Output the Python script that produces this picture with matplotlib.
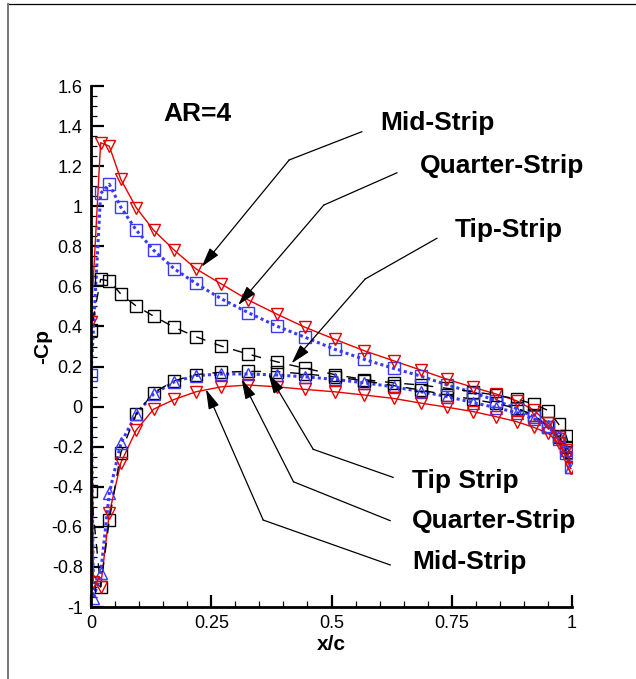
import numpy as np
import matplotlib
matplotlib.use('Agg')
import matplotlib.pyplot as plt
from matplotlib.ticker import MultipleLocator, FuncFormatter
from matplotlib.lines import Line2D

plt.rcParams['font.family'] = ['Liberation Sans', 'DejaVu Sans']
plt.rcParams['axes.unicode_minus'] = False

# chordwise stations (upper / lower surface)
x_upper = [0.0, 0.02, 0.038, 0.062, 0.094, 0.13, 0.173, 0.218, 0.271, 0.327, 0.386, 0.445, 0.507,
           0.568, 0.629, 0.685, 0.741, 0.795, 0.842, 0.885, 0.92, 0.951, 0.972, 0.988, 0.997]
x_lower = [0.005, 0.02, 0.038, 0.062, 0.094, 0.13, 0.173, 0.218, 0.271, 0.327, 0.386, 0.445, 0.507,
           0.568, 0.629, 0.685, 0.741, 0.795, 0.842, 0.885, 0.92, 0.951, 0.972, 0.988, 0.997]
x_lower_tip = [0.0, 0.02, 0.038, 0.062, 0.094, 0.13, 0.173, 0.218, 0.271, 0.327, 0.386, 0.445, 0.507,
               0.568, 0.629, 0.685, 0.741, 0.795, 0.842, 0.885, 0.92, 0.951, 0.972, 0.988, 0.997]

# -Cp, mid strip
mid_upper = [0.42, 1.317, 1.30, 1.134, 0.993, 0.881, 0.781, 0.688, 0.612, 0.532, 0.462, 0.396, 0.336,
             0.279, 0.229, 0.183, 0.136, 0.096, 0.063, 0.029, -0.017, -0.083, -0.15, -0.217, -0.308]
mid_lower = [-0.874, -0.899, -0.532, -0.28, -0.117, -0.013, 0.036, 0.074, 0.099, 0.108, 0.099, 0.086, 0.074,
             0.058, 0.041, 0.018, -0.003, -0.025, -0.05, -0.075, -0.103, -0.133, -0.183, -0.25, -0.308]

# -Cp, quarter strip
quarter_upper = [0.16, 1.064, 1.11, 0.995, 0.881, 0.781, 0.688, 0.615, 0.538, 0.469, 0.402, 0.346, 0.286,
                 0.236, 0.191, 0.153, 0.108, 0.07, 0.03, -0.01, -0.05, -0.10, -0.16, -0.23, -0.30]
quarter_lower = [-0.957, -0.832, -0.433, -0.183, -0.037, 0.063, 0.124, 0.155, 0.163, 0.163, 0.158, 0.149, 0.136,
                 0.119, 0.099, 0.075, 0.05, 0.02, -0.005, -0.03, -0.06, -0.097, -0.147, -0.217, -0.30]

# -Cp, tip strip
tip_upper = [0.38, 0.635, 0.628, 0.562, 0.502, 0.452, 0.396, 0.349, 0.302, 0.262, 0.224, 0.191, 0.16,
             0.135, 0.119, 0.108, 0.091, 0.074, 0.058, 0.038, 0.013, -0.02, -0.087, -0.147, -0.225]
tip_lower = [-0.42, -0.90, -0.566, -0.23, -0.037, 0.069, 0.129, 0.16, 0.172, 0.176, 0.175, 0.163, 0.149,
             0.129, 0.105, 0.083, 0.058, 0.036, 0.016, -0.008, -0.042, -0.1, -0.15, -0.2, -0.233]

red = '#e80000'
blue = '#3a3aff'

fig = plt.figure(figsize=(6.36, 6.79), dpi=100)
ax = fig.add_axes([0.1431, 0.106, 0.7563, 0.7673])

# lines: lower surface from TE to LE, then upper surface LE to TE
ax.plot(x_lower[::-1] + x_upper, mid_lower[::-1] + mid_upper, color=red, lw=1.0)
ax.plot(x_lower[::-1] + x_upper, quarter_lower[::-1] + quarter_upper, color=blue,
        lw=2.2, linestyle=(0, (1, 1)))
ax.plot(x_lower_tip[::-1] + x_upper, tip_lower[::-1] + tip_upper, color='black',
        lw=1.0, dashes=(7, 7))

# symbols
ax.plot(x_upper, tip_upper, 's', ms=8, mfc='none', mec='black', mew=1.0)
ax.plot(x_lower_tip, tip_lower, 's', ms=8, mfc='none', mec='black', mew=1.0)
ax.plot(x_upper, quarter_upper, 's', ms=8, mfc='none', mec=blue, mew=1.0)
ax.plot(x_lower, quarter_lower, '^', ms=9, mfc='none', mec=blue, mew=1.0)
ax.plot(x_upper, mid_upper, 'v', ms=9, mfc='none', mec=red, mew=1.0)
ax.plot(x_lower, mid_lower, 'v', ms=9, mfc='none', mec=red, mew=1.0)

ax.set_xlim(0, 1)
ax.set_ylim(-1, 1.6)
ax.spines['top'].set_visible(False)
ax.spines['right'].set_visible(False)
ax.spines['left'].set_linewidth(2)
ax.spines['bottom'].set_linewidth(2)

ax.xaxis.set_major_locator(MultipleLocator(0.25))
ax.xaxis.set_minor_locator(MultipleLocator(0.05))
ax.yaxis.set_major_locator(MultipleLocator(0.2))
ax.yaxis.set_minor_locator(MultipleLocator(0.05))
fmt = FuncFormatter(lambda v, p: ('%g' % round(v, 3)) if abs(v) > 1e-9 else '0')
ax.xaxis.set_major_formatter(fmt)
ax.yaxis.set_major_formatter(fmt)
ax.tick_params(which='major', direction='in', length=9, width=1.6, labelsize=13, pad=6)
ax.tick_params(which='minor', direction='in', length=4.5, width=0.9)

ax.set_xlabel('x/c', fontsize=15, fontweight='bold', labelpad=2)
ax.set_ylabel('-Cp', fontsize=15, fontweight='bold', labelpad=0)

# annotations
ax.text(0.15, 1.46, 'AR=4', fontsize=19, fontweight='bold', va='center', ha='left')

labels = [
    ('Mid-Strip', (0.601, 1.415), [(0.563, 1.372), (0.412, 1.231)], (0.230, 0.698)),
    ('Quarter-Strip', (0.684, 1.20), [(0.636, 1.167), (0.484, 1.006)], (0.306, 0.507)),
    ('Tip-Strip', (0.757, 0.881), [(0.719, 0.840), (0.570, 0.637)], (0.417, 0.216)),
    ('Tip Strip', (0.667, -0.371), [(0.628, -0.353), (0.462, -0.213)], (0.369, 0.163)),
    ('Quarter-Strip', (0.667, -0.571), [(0.622, -0.569), (0.421, -0.375)], (0.313, 0.136)),
    ('Mid-Strip', (0.667, -0.775), [(0.622, -0.790), (0.358, -0.566)], (0.239, 0.086)),
]
for text, pos, leader, tip in labels:
    ax.text(pos[0], pos[1], text, fontsize=19, fontweight='bold', va='center', ha='left')
    ax.plot([p[0] for p in leader], [p[1] for p in leader], color='black', lw=0.9)
    ax.annotate('', xy=tip, xytext=leader[-1],
                arrowprops=dict(arrowstyle='-|>,head_length=0.6,head_width=0.17',
                                mutation_scale=20, color='black', lw=0.9,
                                shrinkA=0, shrinkB=0))

# page frame
fig.add_artist(Line2D([8 / 636, 1], [1 - 4 / 679, 1 - 4 / 679], transform=fig.transFigure,
                      color='black', lw=0.9))
fig.add_artist(Line2D([8 / 636, 8 / 636], [0, 1 - 4 / 679], transform=fig.transFigure,
                      color='#777777', lw=1.4))

fig.savefig('out.png', dpi=100)
